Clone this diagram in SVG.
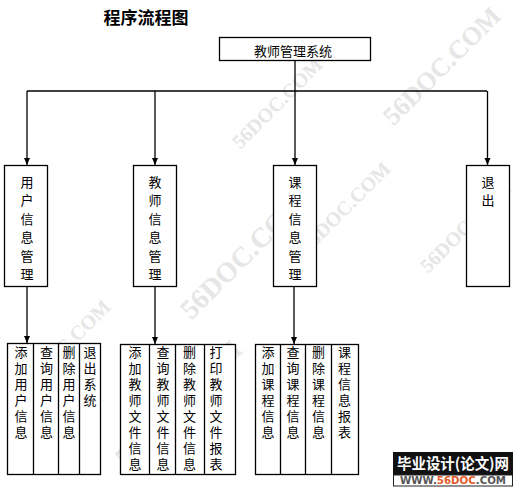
<svg xmlns="http://www.w3.org/2000/svg" width="518" height="491" viewBox="0 0 518 491">
<style>
.box{fill:#fff;stroke:#000;stroke-width:1.3}
.ln{fill:none;stroke:#000;stroke-width:1.3}
.t{font-family:"Noto Sans CJK SC","Liberation Sans",sans-serif;font-size:13px;fill:#000;text-anchor:middle}
.wm{font-family:"Liberation Serif",serif;font-weight:bold;fill:#e6e6e6;text-anchor:middle}
</style>
<defs>
<marker id="ah" markerWidth="8" markerHeight="8" refX="7" refY="4" orient="auto" markerUnits="userSpaceOnUse">
<path d="M0,1 L7,4 L0,7 Z" fill="#000"/>
</marker>
</defs>
<rect width="518" height="491" fill="#fff"/>
<g id="watermarks">
<text class="wm" font-size="20" transform="translate(282,108) rotate(-45)">56DOC.COM</text>
<text class="wm" font-size="26" transform="translate(448,72) rotate(-45)">56DOC.COM</text>
<text class="wm" font-size="20" transform="translate(350,212) rotate(-45)">56DOC.COM</text>
<text class="wm" font-size="28" transform="translate(250,262) rotate(-45)">56DOC.COM</text>
<text class="wm" font-size="20" transform="translate(70,350) rotate(-45)">56DOC.COM</text>
<text class="wm" font-size="28" transform="translate(185,410) rotate(-45)">56DOC.COM</text>
<text class="wm" font-size="20" transform="translate(470,232) rotate(-45)">56DOC.COM</text>
</g>
<text id="title" x="146" y="24" font-family="'Noto Sans CJK SC',sans-serif" font-size="17" font-weight="bold" text-anchor="middle">程序流程图</text>
<g id="connectors">
<path class="ln" d="M295,61 V91"/>
<path class="ln" d="M27,91 H487"/>
<path class="ln" d="M27,91 V165" marker-end="url(#ah)"/>
<path class="ln" d="M155,91 V165" marker-end="url(#ah)"/>
<path class="ln" d="M295,91 V165" marker-end="url(#ah)"/>
<path class="ln" d="M487.5,91 V165" marker-end="url(#ah)"/>
<path class="ln" d="M27,287 V343" marker-end="url(#ah)"/>
<path class="ln" d="M155,287 V344" marker-end="url(#ah)"/>
<path class="ln" d="M294,287 V344" marker-end="url(#ah)"/>
</g>
<g id="root">
<rect class="box" x="219.5" y="37.5" width="151" height="23"/>
<text class="t" x="293" y="56">教师管理系统</text>
</g>
<g id="user">
<rect class="box" x="4.5" y="165.5" width="43" height="121"/>
<text class="t"><tspan x="27" y="187">用</tspan><tspan x="27" dy="18.4">户</tspan><tspan x="27" dy="18.4">信</tspan><tspan x="27" dy="18.4">息</tspan><tspan x="27" dy="18.4">管</tspan><tspan x="27" dy="18.4">理</tspan></text>
</g>
<g id="teacher">
<rect class="box" x="133.5" y="165.5" width="43" height="121"/>
<text class="t"><tspan x="155" y="187">教</tspan><tspan x="155" dy="18.4">师</tspan><tspan x="155" dy="18.4">信</tspan><tspan x="155" dy="18.4">息</tspan><tspan x="155" dy="18.4">管</tspan><tspan x="155" dy="18.4">理</tspan></text>
</g>
<g id="course">
<rect class="box" x="273.5" y="165.5" width="43" height="121"/>
<text class="t"><tspan x="295" y="187">课</tspan><tspan x="295" dy="18.4">程</tspan><tspan x="295" dy="18.4">信</tspan><tspan x="295" dy="18.4">息</tspan><tspan x="295" dy="18.4">管</tspan><tspan x="295" dy="18.4">理</tspan></text>
</g>
<g id="exit">
<rect class="box" x="466.5" y="165.5" width="43" height="121"/>
<text class="t"><tspan x="488" y="187">退</tspan><tspan x="488" dy="18.4">出</tspan></text>
</g>
<g id="user-ops">
<rect class="box" x="7.5" y="343.5" width="93" height="131"/>
<path class="ln" d="M33.5,343.5 V474.5 M58.5,343.5 V474.5 M79.5,343.5 V474.5"/>
<text class="t"><tspan x="21" y="357">添</tspan><tspan x="21" dy="16">加</tspan><tspan x="21" dy="16">用</tspan><tspan x="21" dy="16">户</tspan><tspan x="21" dy="16">信</tspan><tspan x="21" dy="16">息</tspan></text>
<text class="t"><tspan x="46.5" y="357">查</tspan><tspan x="46.5" dy="16">询</tspan><tspan x="46.5" dy="16">用</tspan><tspan x="46.5" dy="16">户</tspan><tspan x="46.5" dy="16">信</tspan><tspan x="46.5" dy="16">息</tspan></text>
<text class="t"><tspan x="69" y="357">删</tspan><tspan x="69" dy="16">除</tspan><tspan x="69" dy="16">用</tspan><tspan x="69" dy="16">户</tspan><tspan x="69" dy="16">信</tspan><tspan x="69" dy="16">息</tspan></text>
<text class="t"><tspan x="90" y="357">退</tspan><tspan x="90" dy="16">出</tspan><tspan x="90" dy="16">系</tspan><tspan x="90" dy="16">统</tspan></text>
</g>
<g id="teacher-ops">
<rect class="box" x="120.5" y="344.5" width="115" height="130"/>
<path class="ln" d="M149.5,344.5 V474.5 M175.5,344.5 V474.5 M204.5,344.5 V474.5"/>
<text class="t"><tspan x="135" y="357">添</tspan><tspan x="135" dy="16">加</tspan><tspan x="135" dy="16">教</tspan><tspan x="135" dy="16">师</tspan><tspan x="135" dy="16">文</tspan><tspan x="135" dy="16">件</tspan><tspan x="135" dy="16">信</tspan><tspan x="135" dy="16">息</tspan></text>
<text class="t"><tspan x="163" y="357">查</tspan><tspan x="163" dy="16">询</tspan><tspan x="163" dy="16">教</tspan><tspan x="163" dy="16">师</tspan><tspan x="163" dy="16">文</tspan><tspan x="163" dy="16">件</tspan><tspan x="163" dy="16">信</tspan><tspan x="163" dy="16">息</tspan></text>
<text class="t"><tspan x="189.5" y="357">删</tspan><tspan x="189.5" dy="16">除</tspan><tspan x="189.5" dy="16">教</tspan><tspan x="189.5" dy="16">师</tspan><tspan x="189.5" dy="16">文</tspan><tspan x="189.5" dy="16">件</tspan><tspan x="189.5" dy="16">信</tspan><tspan x="189.5" dy="16">息</tspan></text>
<text class="t"><tspan x="216" y="357">打</tspan><tspan x="216" dy="16">印</tspan><tspan x="216" dy="16">教</tspan><tspan x="216" dy="16">师</tspan><tspan x="216" dy="16">文</tspan><tspan x="216" dy="16">件</tspan><tspan x="216" dy="16">报</tspan><tspan x="216" dy="16">表</tspan></text>
</g>
<g id="course-ops">
<rect class="box" x="255.5" y="344.5" width="103" height="130"/>
<path class="ln" d="M280.5,344.5 V474.5 M305.5,344.5 V474.5 M331.5,344.5 V474.5"/>
<text class="t"><tspan x="268" y="357">添</tspan><tspan x="268" dy="16">加</tspan><tspan x="268" dy="16">课</tspan><tspan x="268" dy="16">程</tspan><tspan x="268" dy="16">信</tspan><tspan x="268" dy="16">息</tspan></text>
<text class="t"><tspan x="293" y="357">查</tspan><tspan x="293" dy="16">询</tspan><tspan x="293" dy="16">课</tspan><tspan x="293" dy="16">程</tspan><tspan x="293" dy="16">信</tspan><tspan x="293" dy="16">息</tspan></text>
<text class="t"><tspan x="318.5" y="357">删</tspan><tspan x="318.5" dy="16">除</tspan><tspan x="318.5" dy="16">课</tspan><tspan x="318.5" dy="16">程</tspan><tspan x="318.5" dy="16">信</tspan><tspan x="318.5" dy="16">息</tspan></text>
<text class="t"><tspan x="344.5" y="357">课</tspan><tspan x="344.5" dy="16">程</tspan><tspan x="344.5" dy="16">信</tspan><tspan x="344.5" dy="16">息</tspan><tspan x="344.5" dy="16">报</tspan><tspan x="344.5" dy="16">表</tspan></text>
</g>
<g id="logo">
<rect x="393" y="452" width="120" height="23" fill="#111"/>
<rect x="393.5" y="475" width="119" height="11" fill="#fff" stroke="#222" stroke-width="1"/>
<text x="453" y="469" font-family="'Noto Sans CJK SC',sans-serif" font-size="15" font-weight="bold" fill="#fff" text-anchor="middle" textLength="112" lengthAdjust="spacingAndGlyphs">毕业设计(论文)网</text>
<text x="453" y="484" font-family="'DejaVu Sans',sans-serif" font-size="10" font-weight="bold" fill="#555" text-anchor="middle" textLength="106" lengthAdjust="spacingAndGlyphs">WWW.<tspan fill="#e2592a">56DOC</tspan>.COM</text>
</g>
</svg>
